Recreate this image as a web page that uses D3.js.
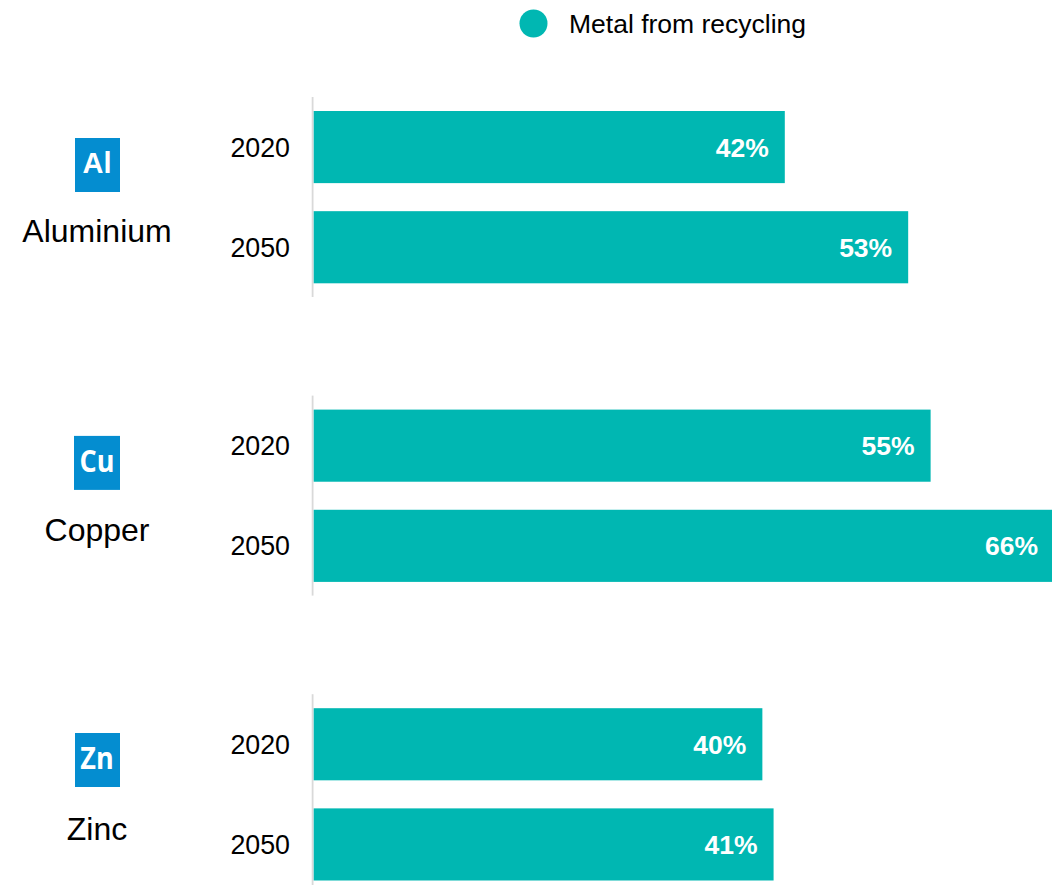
<!DOCTYPE html>
<html>
<head>
<meta charset="utf-8">
<script src="https://cdnjs.cloudflare.com/ajax/libs/d3/7.8.5/d3.min.js"></script>
<style>
html, body { margin: 0; padding: 0; background: #fff; overflow: hidden; }
svg { display: block; }
text { font-family: "Liberation Sans", Arial, sans-serif; }
</style>
</head>
<body>
<svg id="chart" width="1052" height="885"></svg>
<script>
const metals = ["Aluminium", "Copper", "Zinc"];
const symbols = ["Al", "Cu", "Zn"];
const years = ["2020", "2050"];
const aluminiumShare = [42, 53];
const copperShare = [55, 66];
const zincShare = [40, 41];
const seriesName = "Metal from recycling";

const shares = [aluminiumShare, copperShare, zincShare];
const teal = "#00b7b2";
const blue = "#048dd0";
const ink = "#000";

const svg = d3.select("#chart");

// Shared value scale: the longest bar runs off the right edge of the frame.
const x = d3.scaleLinear().domain([0, 66]).range([313.7, 1054]);

// One row per metal, each split into its two years.
const rowY = d3.scaleBand().domain(metals).range([97, 992.8]);
const rowHeight = 200;
const yearBandY = d3.scaleBand().domain(years).range([14, 186.3]).paddingInner(28 / 100);

// Legend
svg.append("circle").attr("cx", 533.5).attr("cy", 23.5).attr("r", 14).attr("fill", teal);
svg.append("text").attr("x", 569).attr("y", 33).attr("font-size", 26.5).attr("fill", ink).text(seriesName);

const rows = svg.selectAll("g.metal")
  .data(metals.map((name, i) => ({ name, symbol: symbols[i], values: shares[i], index: i })))
  .join("g")
  .attr("class", "metal")
  .attr("transform", d => `translate(0,${rowY(d.name)})`);

// Baseline beside each pair of bars
rows.append("line")
  .attr("x1", 312.6).attr("x2", 312.6)
  .attr("y1", 0).attr("y2", rowHeight)
  .attr("stroke", "#d9d9d9").attr("stroke-width", 1.8);

const bars = rows.selectAll("g.year")
  .data(d => d.values.map((v, i) => ({ year: years[i], value: v })))
  .join("g")
  .attr("class", "year");

bars.append("rect")
  .attr("x", x(0))
  .attr("y", d => yearBandY(d.year))
  .attr("width", d => x(d.value) - x(0))
  .attr("height", yearBandY.bandwidth())
  .attr("fill", teal);

bars.append("text")
  .attr("x", d => x(d.value) - 16)
  .attr("y", d => yearBandY(d.year) + yearBandY.bandwidth() / 2 + 9.5)
  .attr("text-anchor", "end")
  .attr("font-size", 26.5)
  .attr("font-weight", 700)
  .attr("fill", "#fff")
  .text(d => d.value + "%");

bars.append("text")
  .attr("x", 290)
  .attr("y", d => yearBandY(d.year) + yearBandY.bandwidth() / 2 + 9.5)
  .attr("text-anchor", "end")
  .attr("font-size", 26.8)
  .attr("fill", ink)
  .text(d => d.year);

// Element tile and metal name
rows.append("rect")
  .attr("x", d => d.index === 1 ? 74 : 75)
  .attr("y", d => [41, 40.3, 38.8][d.index])
  .attr("width", d => d.index === 1 ? 46 : 45)
  .attr("height", 54)
  .attr("fill", blue);

// The aluminium tile uses a plain grotesque; the other two a humanist face set narrow.
rows.filter(d => d.index === 0).append("text")
  .attr("x", 97).attr("y", 76)
  .attr("text-anchor", "middle")
  .attr("font-size", 29)
  .attr("font-weight", 700)
  .attr("fill", "#fff")
  .text(d => d.symbol);

rows.filter(d => d.index > 0).append("text")
  .attr("text-anchor", "middle")
  .attr("transform", d => `translate(97,${d.index === 1 ? 76.5 : 75}) scale(0.9,1)`)
  .attr("font-size", 30)
  .attr("font-weight", 700)
  .attr("fill", "#fff")
  .style("font-family", "'Open Sans', sans-serif")
  .text(d => d.symbol);

rows.append("text")
  .attr("x", 97).attr("y", d => d.index === 2 ? 146 : 145)
  .attr("text-anchor", "middle")
  .attr("font-size", 32)
  .attr("fill", ink)
  .text(d => d.name);
</script>
</body>
</html>
